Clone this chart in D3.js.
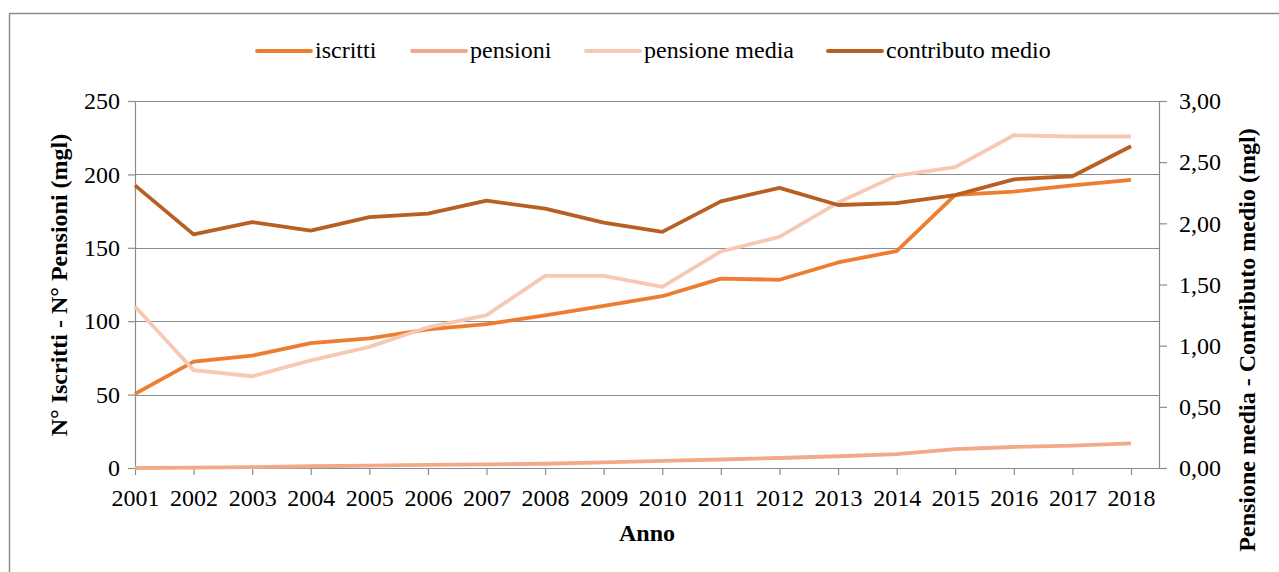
<!DOCTYPE html>
<html>
<head>
<meta charset="utf-8">
<script src="https://cdn.jsdelivr.net/npm/d3@7"></script>
<style>
  body { margin: 0; background: #fff; }
  text { font-family: "Liberation Serif", "Times New Roman", serif; fill: #000; }
</style>
</head>
<body>
<div id="chart"></div>
<script>
// data
var anni = ["2001","2002","2003","2004","2005","2006","2007","2008","2009","2010","2011","2012","2013","2014","2015","2016","2017","2018"];
var iscritti = [50.5, 72.5, 76.5, 85, 88.3, 94.5, 98, 104, 110.5, 117, 129, 128.2, 140, 147.8, 186, 188.3, 192.5, 196.2];
var pensioni = [0, 0.2, 0.6, 1.2, 1.6, 2.1, 2.5, 2.9, 3.9, 4.8, 5.8, 6.8, 8, 9.5, 12.9, 14.3, 15.2, 16.8];
var pensioneMedia = [1.32, 0.80, 0.75, 0.88, 0.99, 1.15, 1.25, 1.57, 1.57, 1.48, 1.77, 1.89, 2.17, 2.39, 2.46, 2.72, 2.71, 2.71];
var contributoMedio = [2.31, 1.91, 2.01, 1.94, 2.05, 2.08, 2.185, 2.12, 2.005, 1.93, 2.18, 2.29, 2.15, 2.165, 2.23, 2.36, 2.385, 2.63];
var leftTicks = [0, 50, 100, 150, 200, 250];
var rightTicks = [0, 0.5, 1, 1.5, 2, 2.5, 3];

var W = 1279, H = 572;
var plotL = 135, plotR = 1159, plotT = 101, plotB = 468;
var fs = "24px";

var svg = d3.select("#chart").append("svg")
    .attr("width", W)
    .attr("height", H);

// outer frame (only top and left visible in the picture)
svg.append("line").attr("x1", 10).attr("x2", W).attr("y1", 13.5).attr("y2", 13.5)
    .attr("stroke", "#8c8c8c").attr("stroke-width", 1.5);
svg.append("line").attr("x1", 9.5).attr("x2", 9.5).attr("y1", 13).attr("y2", H)
    .attr("stroke", "#8c8c8c").attr("stroke-width", 1.5);

var x = d3.scalePoint().domain(anni).range([plotL, 1131]);
var yL = d3.scaleLinear().domain([0, 250]).range([plotB, plotT]);
var yR = d3.scaleLinear().domain([0, 3]).range([plotB, plotT]);

// gridlines
svg.append("g").selectAll("line").data(leftTicks.slice(1)).join("line")
    .attr("x1", plotL).attr("x2", plotR)
    .attr("y1", function(d) { return Math.round(yL(d)) + 0.5; })
    .attr("y2", function(d) { return Math.round(yL(d)) + 0.5; })
    .attr("stroke", "#8c8c8c").attr("stroke-width", 1.2);

var fmtIt = function(d) { return d3.format(".2f")(d).replace(".", ","); };

// left axis
var gL = svg.append("g").attr("transform", "translate(" + plotL + ",0)")
    .call(d3.axisLeft(yL).tickValues(leftTicks).tickSize(7).tickSizeOuter(0).tickPadding(8));
// right axis
var gR = svg.append("g").attr("transform", "translate(" + plotR + ",0)")
    .call(d3.axisRight(yR).tickValues(rightTicks).tickFormat(fmtIt).tickSize(8).tickSizeOuter(0).tickPadding(12));
// bottom axis
var gB = svg.append("g").attr("transform", "translate(0," + plotB + ")")
    .call(d3.axisBottom(x).tickSize(7).tickSizeOuter(0).tickPadding(14));
gB.select(".domain").attr("d", "M" + plotL + ",0.5H" + plotR);

[gL, gR, gB].forEach(function(g) {
  g.select(".domain").attr("stroke", "#8c8c8c").attr("stroke-width", 1.2);
  g.selectAll(".tick line").attr("stroke", "#8c8c8c").attr("stroke-width", 1.2);
  g.selectAll("text").style("font-size", fs).attr("fill", "#000")
    .style("font-family", "'Liberation Serif', 'Times New Roman', serif");
});

// series
var series = [
  {name: "iscritti", values: iscritti, scale: yL, color: "#ED7D31"},
  {name: "pensioni", values: pensioni, scale: yL, color: "#F2A98A"},
  {name: "pensione media", values: pensioneMedia, scale: yR, color: "#F7C9B4"},
  {name: "contributo medio", values: contributoMedio, scale: yR, color: "#B85F24"}
];

series.forEach(function(s) {
  var line = d3.line()
    .x(function(d, i) { return x(anni[i]); })
    .y(function(d) { return s.scale(d); });
  svg.append("path")
    .datum(s.values)
    .attr("fill", "none")
    .attr("stroke", s.color)
    .attr("stroke-width", 3.8)
    .attr("stroke-linejoin", "round")
    .attr("d", line);
});

// legend
var legX = [257, 412, 586, 828];
var leg = svg.append("g");
series.forEach(function(s, i) {
  leg.append("line")
    .attr("x1", legX[i]).attr("x2", legX[i] + 54)
    .attr("y1", 51).attr("y2", 51)
    .attr("stroke", s.color).attr("stroke-width", 3.8).attr("stroke-linecap", "round");
  leg.append("text")
    .attr("x", legX[i] + 58).attr("y", 58)
    .style("font-size", fs)
    .text(s.name);
});

// axis titles
svg.append("text")
  .attr("transform", "translate(67,285) rotate(-90)")
  .attr("text-anchor", "middle")
  .style("font-size", fs).style("font-weight", "bold")
  .text("N° Iscritti - N° Pensioni (mgl)");
svg.append("text")
  .attr("transform", "translate(1255,340) rotate(-90)")
  .attr("text-anchor", "middle")
  .style("font-size", fs).style("font-weight", "bold")
  .text("Pensione media - Contributo medio (mgl)");
svg.append("text")
  .attr("x", 647).attr("y", 541)
  .attr("text-anchor", "middle")
  .style("font-size", fs).style("font-weight", "bold")
  .text("Anno");
</script>
</body>
</html>
